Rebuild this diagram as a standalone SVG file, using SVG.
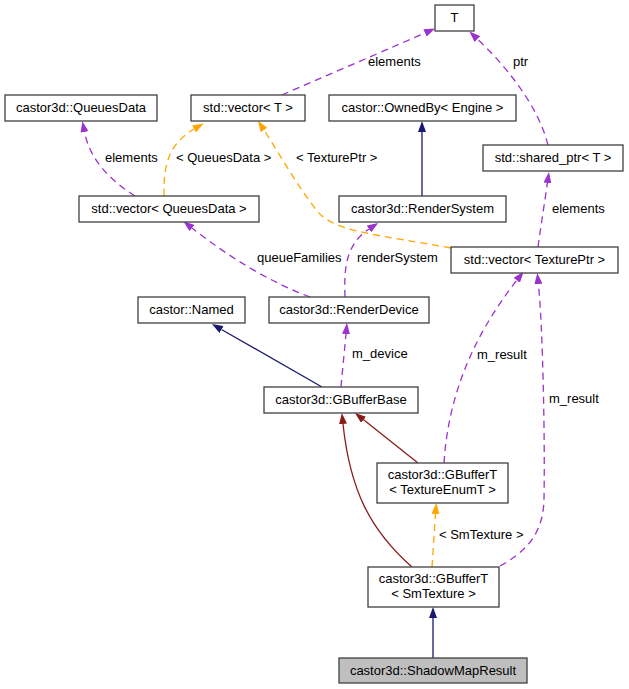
<svg xmlns="http://www.w3.org/2000/svg" width="629" height="689" viewBox="0 0 629 689">
<style>
  .box { fill: #ffffff; stroke: #404040; stroke-width: 1.3; }
  .hl { fill: #bfbfbf; }
  text { font-family: "Liberation Sans", Arial, sans-serif; font-size: 13px; fill: #000000; }
  .c { text-anchor: middle; }
  .e { fill: none; stroke-width: 1.3; }
  .p { stroke: #9a32cd; stroke-dasharray: 7,5; marker-end: url(#ap); }
  .o { stroke: #ffa500; stroke-dasharray: 7,5; marker-end: url(#ao); }
  .n { stroke: #191970; marker-end: url(#an); }
  .r { stroke: #8b1a1a; marker-end: url(#ar); }
</style>
<defs>
  <marker id="ap" markerUnits="userSpaceOnUse" viewBox="0 0 11 8" refX="0" refY="4" markerWidth="11" markerHeight="8" orient="auto"><path d="M0,0 L11,4 L0,8 z" fill="#9a32cd"/></marker>
  <marker id="ao" markerUnits="userSpaceOnUse" viewBox="0 0 11 8" refX="0" refY="4" markerWidth="11" markerHeight="8" orient="auto"><path d="M0,0 L11,4 L0,8 z" fill="#ffa500"/></marker>
  <marker id="an" markerUnits="userSpaceOnUse" viewBox="0 0 11 8" refX="0" refY="4" markerWidth="11" markerHeight="8" orient="auto"><path d="M0,0 L11,4 L0,8 z" fill="#191970"/></marker>
  <marker id="ar" markerUnits="userSpaceOnUse" viewBox="0 0 11 8" refX="0" refY="4" markerWidth="11" markerHeight="8" orient="auto"><path d="M0,0 L11,4 L0,8 z" fill="#8b1a1a"/></marker>
</defs>
<rect width="629" height="689" fill="#ffffff"/>
<g id="connectors">
  <path class="e p" d="M282,95 C300,87 400,44 425,33"/>
  <text x="368" y="66">elements</text>
  <path class="e p" d="M548,145 C538,105 505,65 477.4,39.1"/>
  <text x="513" y="66">ptr</text>
  <path class="e p" d="M135,196 C110,180 90,160 84.5,132"/>
  <text x="105" y="162">elements</text>
  <path class="e o" d="M164,196 C163,160 172,142 194,129"/>
  <text x="176" y="162">&lt; QueuesData &gt;</text>
  <path class="e o" d="M451,248 C380,235 335,232 318,212 C300,190 280,155 264,130"/>
  <text x="296" y="162">&lt; TexturePtr &gt;</text>
  <path class="e p" d="M538,247 C541,225 545,200 547.4,183"/>
  <text x="552" y="213">elements</text>
  <path class="e n" d="M422,196 L422,132"/>
  <path class="e p" d="M310,297 C270,282 230,258 192,228"/>
  <text x="257" y="262">queueFamilies</text>
  <path class="e p" d="M345,297 C344,270 345,245 369,229"/>
  <text x="357" y="262">renderSystem</text>
  <path class="e p" d="M341,387 C343,365 345,345 346,334"/>
  <text x="352" y="358">m_device</text>
  <path class="e n" d="M322,387 L221.5,329.5"/>
  <path class="e p" d="M444,463 C448,400 470,340 516.8,280.3"/>
  <text x="477" y="359">m_result</text>
  <path class="e p" d="M500,566 C525,552 543,535 544,500 C545,440 543,330 538.4,284"/>
  <text x="549" y="403">m_result</text>
  <path class="e r" d="M418,463 L363.6,419.8"/>
  <path class="e r" d="M412,567 C370,530 350,490 343,424"/>
  <path class="e o" d="M432,567 L435.5,514"/>
  <text x="439" y="539">&lt; SmTexture &gt;</text>
  <path class="e n" d="M433,658 L433,618"/>
</g>
<g id="node-T"><rect class="box" x="435" y="5" width="39" height="26"/><text class="c" x="454.5" y="22">T</text></g>
<g id="node-QueuesData"><rect class="box" x="5" y="95" width="152" height="26"/><text class="c" x="81" y="112">castor3d::QueuesData</text></g>
<g id="node-vectorT"><rect class="box" x="191" y="95" width="114" height="26"/><text class="c" x="248" y="112">std::vector&lt; T &gt;</text></g>
<g id="node-OwnedBy"><rect class="box" x="329" y="95" width="187" height="26"/><text class="c" x="422.5" y="112">castor::OwnedBy&lt; Engine &gt;</text></g>
<g id="node-sharedptr"><rect class="box" x="483" y="145" width="140" height="26"/><text class="c" x="553" y="162">std::shared_ptr&lt; T &gt;</text></g>
<g id="node-vectorQD"><rect class="box" x="79" y="196" width="180" height="26"/><text class="c" x="169" y="213">std::vector&lt; QueuesData &gt;</text></g>
<g id="node-RenderSystem"><rect class="box" x="339" y="196" width="167" height="26"/><text class="c" x="422.5" y="213">castor3d::RenderSystem</text></g>
<g id="node-vectorTP"><rect class="box" x="451" y="247" width="167" height="26"/><text class="c" x="534.5" y="264">std::vector&lt; TexturePtr &gt;</text></g>
<g id="node-Named"><rect class="box" x="138" y="297" width="107" height="26"/><text class="c" x="191.5" y="314">castor::Named</text></g>
<g id="node-RenderDevice"><rect class="box" x="269" y="297" width="160" height="26"/><text class="c" x="349" y="314">castor3d::RenderDevice</text></g>
<g id="node-GBufferBase"><rect class="box" x="264" y="387" width="154" height="26"/><text class="c" x="341" y="404">castor3d::GBufferBase</text></g>
<g id="node-GBufferTEnum"><rect class="box" x="377" y="463" width="131" height="40"/><text class="c" x="442.5" y="479">castor3d::GBufferT</text><text class="c" x="442.5" y="494">&lt; TextureEnumT &gt;</text></g>
<g id="node-GBufferTSm"><rect class="box" x="368" y="567" width="131" height="40"/><text class="c" x="433.5" y="583">castor3d::GBufferT</text><text class="c" x="433.5" y="598">&lt; SmTexture &gt;</text></g>
<g id="node-ShadowMapResult"><rect class="box hl" x="339" y="658" width="188" height="25"/><text class="c" x="433" y="675">castor3d::ShadowMapResult</text></g>
</svg>
